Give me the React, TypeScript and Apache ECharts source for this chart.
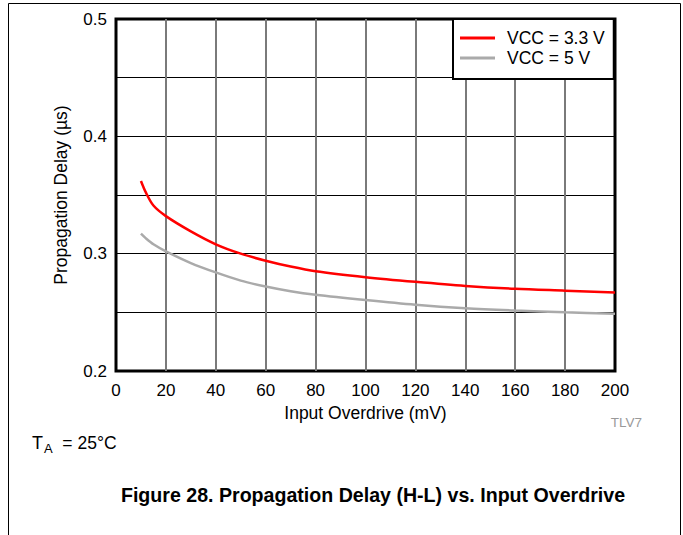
import React, { useEffect, useRef } from "react";
import * as echarts from "echarts";

const overdrive = [10, 12, 15, 20, 30, 40, 50, 60, 70, 80, 100, 120, 140, 160, 180, 200];
const delay33 = [0.362, 0.352, 0.341, 0.332, 0.319, 0.308, 0.3, 0.294, 0.289, 0.285, 0.28, 0.276, 0.2725, 0.27, 0.2685, 0.267];
const delay5 = [0.317, 0.313, 0.308, 0.302, 0.292, 0.284, 0.277, 0.272, 0.268, 0.265, 0.2605, 0.2565, 0.2535, 0.2515, 0.25, 0.2488];
const seriesNames = ["VCC = 3.3 V", "VCC = 5 V"];
const xTicks = [0, 200, 20];
const yTicks = [0.2, 0.5, 0.05];

const FONT = "'Liberation Sans', Arial, Helvetica, sans-serif";

export default function App() {
  const ref = useRef<HTMLDivElement>(null);
  useEffect(() => {
    if (!ref.current) return;
    const chart = echarts.init(ref.current, null, { renderer: "svg" });
    const toPairs = (ys: number[]) => overdrive.map((x, i) => [x, ys[i]]);
    chart.setOption({
      animation: false,
      backgroundColor: "#ffffff",
      textStyle: { fontFamily: FONT },
      grid: {
        left: 116,
        top: 19,
        right: 683 - 615,
        bottom: 535 - 371,
        show: true,
        borderColor: "#000",
        borderWidth: 3,
        backgroundColor: "transparent",
        containLabel: false,
        outerBoundsMode: "none",
      },
      legend: {
        orient: "vertical",
        left: 453,
        top: 19,
        padding: [9, 9, 11, 7],
        itemGap: 0,
        itemWidth: 35,
        itemHeight: 3,
        icon: "rect",
        backgroundColor: "#fff",
        borderColor: "#000",
        borderWidth: 2,
        borderRadius: 0,
        data: seriesNames,
        textStyle: {
          fontFamily: FONT,
          fontSize: 17.5,
          color: "#000",
          lineHeight: 20,
          padding: [0, 0, 0, 7],
        },
      },
      xAxis: {
        type: "value",
        min: xTicks[0],
        max: xTicks[1],
        interval: xTicks[2],
        name: "Input Overdrive (mV)",
        nameLocation: "middle",
        nameGap: 32,
        nameTextStyle: { fontFamily: FONT, fontSize: 17.5, color: "#000" },
        axisLine: { show: false },
        axisTick: { show: false },
        axisLabel: { fontFamily: FONT, fontSize: 17, color: "#000", margin: 11 },
        splitLine: {
          show: true,
          showMinLine: false,
          showMaxLine: false,
          lineStyle: { color: "#7a7a7a", width: 2 },
        },
      },
      yAxis: {
        type: "value",
        min: yTicks[0],
        max: yTicks[1],
        interval: yTicks[2],
        name: "Propagation Delay (µs)",
        nameLocation: "middle",
        nameGap: 46,
        nameTextStyle: { fontFamily: FONT, fontSize: 17.5, color: "#000" },
        axisLine: { show: false },
        axisTick: { show: false },
        axisLabel: {
          fontFamily: FONT,
          fontSize: 17,
          color: "#000",
          margin: 9,
          formatter: (v: number) =>
            Math.abs(v * 10 - Math.round(v * 10)) < 1e-6 ? v.toFixed(1) : "",
        },
        splitLine: {
          show: true,
          showMinLine: false,
          showMaxLine: false,
          lineStyle: { color: "#000", width: 1 },
        },
      },
      series: [
        {
          name: seriesNames[0],
          type: "line",
          data: toPairs(delay33),
          smooth: 0.3,
          showSymbol: false,
          lineStyle: { color: "#ff0000", width: 2.5 },
          itemStyle: { color: "#ff0000" },
        },
        {
          name: seriesNames[1],
          type: "line",
          data: toPairs(delay5),
          smooth: 0.3,
          showSymbol: false,
          lineStyle: { color: "#aaaaaa", width: 2.5 },
          itemStyle: { color: "#aaaaaa" },
        },
      ],
      graphic: [
        {
          type: "polyline",
          silent: true,
          shape: { points: [[8.5, 540], [8.5, 3.5], [680.5, 3.5], [680.5, 540]] },
          style: { stroke: "#000", lineWidth: 1, fill: "none" },
        },
        {
          type: "text",
          x: 642,
          y: 422,
          style: {
            text: "TLV7",
            fontFamily: FONT,
            fontSize: 13.5,
            fill: "#999",
            textAlign: "right",
            textVerticalAlign: "middle",
          },
        },
        {
          type: "text",
          x: 32,
          y: 443,
          style: {
            text: "T",
            fontFamily: FONT,
            fontSize: 18,
            fill: "#000",
            textAlign: "left",
            textVerticalAlign: "middle",
          },
        },
        {
          type: "text",
          x: 44,
          y: 448.5,
          style: {
            text: "A",
            fontFamily: FONT,
            fontSize: 13,
            fill: "#000",
            textAlign: "left",
            textVerticalAlign: "middle",
          },
        },
        {
          type: "text",
          x: 57.5,
          y: 443,
          style: {
            text: " = 25°C",
            fontFamily: FONT,
            fontSize: 17.5,
            fill: "#000",
            textAlign: "left",
            textVerticalAlign: "middle",
          },
        },
        {
          type: "text",
          x: 373,
          y: 495,
          style: {
            text: "Figure 28. Propagation Delay (H-L) vs. Input Overdrive",
            fontFamily: FONT,
            fontSize: 19.6,
            fontWeight: "bold",
            fill: "#000",
            textAlign: "center",
            textVerticalAlign: "middle",
          },
        },
      ],
    });
    return () => chart.dispose();
  }, []);
  return (
    <div
      ref={ref}
      style={{ position: "absolute", left: 0, top: 0, width: 683, height: 535 }}
    />
  );
}
